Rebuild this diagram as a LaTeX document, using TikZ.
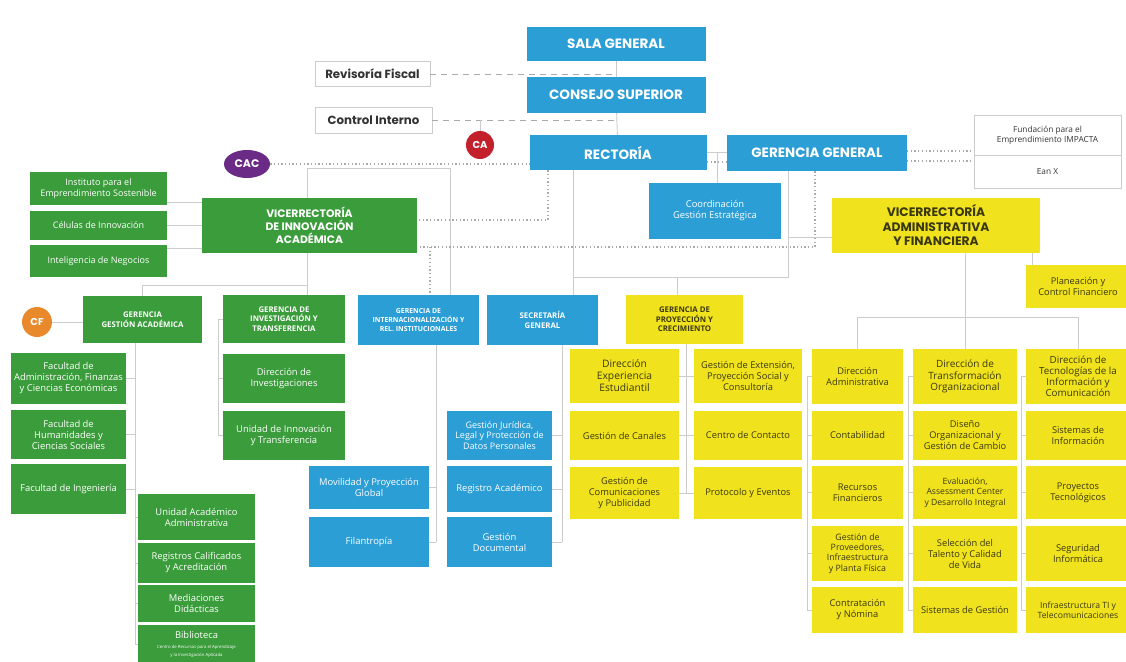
\documentclass[tikz,border=0pt]{standalone}
\usepackage{fontspec}
\setmainfont{Open Sans}
\newfontfamily\hdf{Poppins}
\usetikzlibrary{shapes.geometric}
\definecolor{cblue}{HTML}{2B9ED6}
\definecolor{cgreen}{HTML}{3A9C3A}
\definecolor{cyellow}{HTML}{F1E21E}
\definecolor{ytext}{HTML}{3A3810}
\definecolor{lgray}{HTML}{CCCCCC}
\definecolor{mgray}{HTML}{AAAAAA}
\definecolor{dgray}{HTML}{333333}
\definecolor{cred}{HTML}{C4202B}
\definecolor{cpurple}{HTML}{6A2A86}
\definecolor{corange}{HTML}{E8892B}
\newcommand\fsz[2]{\fontsize{#1}{#2}\selectfont}
\tikzset{
  base/.style={draw=none, align=center, inner sep=1pt},
  sz/.style 2 args={minimum width=#1pt, minimum height=#2pt},
  bl/.style={base, fill=cblue, text=white},
  gr/.style={base, fill=cgreen, text=white},
  ye/.style={base, fill=cyellow, text=ytext},
  wh/.style={base, fill=white, draw=lgray, line width=0.8pt, text=dgray},
  hd/.style={font=\hdf\bfseries\fsz{13.5}{15}},
  vice/.style={font=\hdf\bfseries\fsz{10.8}{13}},
  ger/.style={font=\bfseries\fsz{7.8}{9.5}},
  ch/.style={font=\fsz{9.4}{11}},
  ych/.style={font=\fsz{9.3}{11}},
  conn/.style={draw=lgray, line width=0.9pt},
  dotl/.style={draw=mgray, line width=1.3pt, dash pattern=on 1.3pt off 2.4pt},
  dashl/.style={draw=mgray, line width=0.9pt, dash pattern=on 6pt off 5pt},
  badge/.style={circle, inner sep=0pt, minimum size=28pt, text=white, font=\hdf\bfseries\fsz{10}{12}}
}
\begin{document}
\begin{tikzpicture}[x=1pt,y=-1pt]
\useasboundingbox[fill=white] (0,0) rectangle (1126,661);

% ---- top level
\node[bl,hd,sz={179}{34}] (sala) at (616,44) {SALA GENERAL};
\node[bl,hd,sz={179}{36}] (cons) at (616,95) {CONSEJO SUPERIOR};
\node[bl,hd,sz={177}{35}] (rect) at (618,152.5) {RECTORÍA};
\node[bl,hd,sz={180}{36}] (gg) at (817,153) {GERENCIA GENERAL};
\node[wh,sz={115}{25},font=\hdf\bfseries\fsz{11.8}{13}] (rev) at (372.5,74) {Revisoría Fiscal};
\node[wh,sz={117}{26},font=\hdf\bfseries\fsz{11.8}{13}] (ci) at (373.5,120) {Control Interno};
\node[wh,sz={147}{40},font=\fsz{8.3}{10}] (fund) at (1047.5,135) {Fundación para el\\Emprendimiento IMPACTA};
\node[wh,sz={147}{33},font=\fsz{8.3}{10}] (eanx) at (1047.5,171.5) {Ean X};
\node[badge,fill=cred] (ca) at (480,145) {CA};
\node[ellipse,inner sep=0pt,minimum width=46pt,minimum height=28pt,fill=cpurple,text=white,font=\hdf\bfseries\fsz{11}{12}] (cac) at (247,164) {CAC};
\node[bl,ch,sz={132}{56}] (coord) at (715,211) {Coordinación\\Gestión Estratégica};
\node[gr,vice,sz={215}{55}] (via) at (309.5,225.5) {VICERRECTORÍA\\DE INNOVACIÓN\\ACADÉMICA};
\node[gr,sz={137}{33},font=\fsz{9}{10.5}] (inst) at (98.5,188.5) {Instituto para el\\Emprendimiento Sostenible};
\node[gr,sz={137}{29},font=\fsz{9}{10.5}] (cel) at (98.5,225.5) {Células de Innovación};
\node[gr,sz={137}{32},font=\fsz{9}{10.5}] (intel) at (98.5,261) {Inteligencia de Negocios};
\node[ye,sz={208}{55},font=\hdf\bfseries\fsz{12.3}{14.5}] (vaf) at (936,225.5) {VICERRECTORÍA\\ADMINISTRATIVA\\Y FINANCIERA};
\node[ye,ych,sz={104}{43}] (plan) at (1078,286.5) {Planeación y\\Control Financiero};

% ---- gerencias
\node[gr,ger,sz={119}{47}] (gga) at (142.5,319.5) {GERENCIA\\GESTIÓN ACADÉMICA};
\node[badge,fill=corange,minimum size=30pt] (cf) at (37,322) {CF};
\node[gr,ger,sz={122}{48}] (git) at (284,319) {GERENCIA DE\\INVESTIGACIÓN Y\\TRANSFERENCIA};
\node[bl,sz={121}{50},font=\bfseries\fsz{6.9}{9}] (giri) at (418.5,320) {GERENCIA DE\\INTERNACIONALIZACIÓN Y\\REL. INSTITUCIONALES};
\node[bl,ger,sz={111}{50}] (sg) at (542.5,320) {SECRETARÍA\\GENERAL};
\node[ye,ger,sz={117}{49}] (gpc) at (684.5,319.5) {GERENCIA DE\\PROYECCIÓN Y\\CRECIMIENTO};

% ---- GGA children
\node[gr,ch,sz={115}{51}] (fad) at (68.5,378.5) {Facultad de\\Administración, Finanzas\\y Ciencias Económicas};
\node[gr,ch,sz={115}{49}] (fhu) at (68.5,434.5) {Facultad de\\Humanidades y\\Ciencias Sociales};
\node[gr,ch,sz={115}{50}] (fin) at (68.5,489) {Facultad de Ingeniería};
\node[gr,ch,sz={117}{46}] (uaa) at (196.5,517) {Unidad Académico\\Administrativa};
\node[gr,ch,sz={117}{40}] (rca) at (196.5,563) {Registros Calificados\\y Acreditación};
\node[gr,ch,sz={117}{37}] (med) at (196.5,603.5) {Mediaciones\\Didácticas};
\node[gr,ch,sz={117}{38}] (bib) at (196.5,644) {Biblioteca\\[-1pt]{\fsz{4.3}{5}Centro de Recursos para el Aprendizaje}\\[-3pt]{\fsz{4.3}{5}y la Investigación Aplicada}};

% ---- GIT children
\node[gr,ch,sz={122}{49}] (dinv) at (284,378.5) {Dirección de\\Investigaciones};
\node[gr,ch,sz={122}{49}] (uit) at (284,435.5) {Unidad de Innovación\\y Transferencia};

% ---- GIRI children
\node[bl,ch,sz={120}{43}] (mov) at (369,487.5) {Movilidad y Proyección\\Global};
\node[bl,ch,sz={120}{50}] (fil) at (369,542) {Filantropía};

% ---- SG children
\node[bl,sz={105}{49},font=\fsz{9}{10.5}] (gjur) at (499.5,435.5) {Gestión Jurídica,\\Legal y Protección de\\Datos Personales};
\node[bl,ch,sz={105}{46}] (racad) at (499.5,489) {Registro Académico};
\node[bl,ch,sz={105}{50}] (gdoc) at (499.5,542) {Gestión\\Documental};

% ---- GPC children
\node[ye,sz={109}{54},font=\fsz{10.3}{12}] (p11) at (624.5,376) {Dirección\\Experiencia\\Estudiantil};
\node[ye,ych,sz={109}{49}] (p12) at (624.5,435.5) {Gestión de Canales};
\node[ye,ych,sz={109}{52}] (p13) at (624.5,493) {Gestión de\\Comunicaciones\\y Publicidad};
\node[ye,ych,sz={108}{54}] (p21) at (748,376) {Gestión de Extensión,\\Proyección Social y\\Consultoría};
\node[ye,ych,sz={108}{49}] (p22) at (748,435.5) {Centro de Contacto};
\node[ye,ych,sz={108}{52}] (p23) at (748,493) {Protocolo y Eventos};

% ---- VAF children
\node[ye,ych,sz={91}{55}] (d11) at (857.5,376.5) {Dirección\\Administrativa};
\node[ye,ych,sz={91}{49}] (d12) at (857.5,435.5) {Contabilidad};
\node[ye,ych,sz={91}{53}] (d13) at (857.5,492.5) {Recursos\\Financieros};
\node[ye,sz={91}{55},font=\fsz{8.8}{10.3}] (d14) at (857.5,553.5) {Gestión de\\Proveedores,\\Infraestructura\\y Planta Física};
\node[ye,ych,sz={91}{46}] (d15) at (857.5,610) {Contratación\\y Nómina};
\node[ye,sz={104}{55},font=\fsz{10}{11.8}] (d21) at (965,376.5) {Dirección de\\Transformación\\Organizacional};
\node[ye,ych,sz={104}{49}] (d22) at (965,435.5) {Diseño\\Organizacional y\\Gestión de Cambio};
\node[ye,sz={104}{53},font=\fsz{8.6}{10.3}] (d23) at (965,492.5) {Evaluación,\\Assessment Center\\y Desarrollo Integral};
\node[ye,ych,sz={104}{55}] (d24) at (965,553.5) {Selección del\\Talento y Calidad\\de Vida};
\node[ye,ych,sz={104}{46}] (d25) at (965,610) {Sistemas de Gestión};
\node[ye,sz={104}{55},font=\fsz{9.8}{11}] (d31) at (1078,376.5) {Dirección de\\Tecnologías de la\\Información y\\Comunicación};
\node[ye,ych,sz={104}{49}] (d32) at (1078,435.5) {Sistemas de\\Información};
\node[ye,ych,sz={104}{53}] (d33) at (1078,492.5) {Proyectos\\Tecnológicos};
\node[ye,ych,sz={104}{55}] (d34) at (1078,553.5) {Seguridad\\Informática};
\node[ye,sz={104}{46},font=\fsz{8.6}{10.3}] (d35) at (1078,610) {Infraestructura TI y\\Telecomunicaciones};

% ================= connectors
\draw[conn] (sala) -- (cons);
\draw[conn] (cons) -- (rect);
\draw[dashl] (rev.east) -- (rev.east -| sala.south);
\draw[dashl] (ci.east) -- (ci.east -| sala.south);
\draw[conn] (ca.north) -- (ca.north |- ci.east);
\draw[dotl] (cac.east) -- (cac.east -| rect.west);
\coordinate (j1) at (307,168);
\coordinate (j2) at (450,168);
\draw[conn] (via.north -| j1) -- (j1) -- (j2) -- (j2 |- giri.north);
\draw[conn] (rect.east) -- (rect.east -| gg.west);
\coordinate (j4) at (707,162);
\draw[dotl] (j4) -- (j4 -| gg.west);
\coordinate (j3) at (717,152.5);
\draw[conn] (j3) -- (j3 |- coord.north);
\coordinate (g1) at (907,151);
\draw[dotl] (g1) -- (g1 -| fund.west);
\coordinate (g2) at (907,161);
\draw[dotl] (g2) -- (g2 -| eanx.west);
\coordinate (r1) at (548,220);
\draw[dotl] (r1 |- rect.south) -- (r1) -- (r1 -| via.east);
\coordinate (r2) at (815,247);
\draw[dotl] (r2 |- gg.south) -- (r2) -- (r2 -| via.east);
\coordinate (r3) at (430,247);
\draw[dotl] (r3) -- (r3 |- giri.north);
\coordinate (s1) at (573,277);
\coordinate (s2) at (788,277);
\coordinate (s3) at (677,277);
\coordinate (s4) at (788,237);
\draw[conn] (s1 |- rect.south) -- (s1 |- sg.north);
\draw[conn] (s1) -- (s2) -- (s2 |- gg.south);
\draw[conn] (s3) -- (s3 |- gpc.north);
\draw[conn] (s4) -- (s4 -| vaf.west);
% VIA side
\coordinate (v1) at (0,202);
\coordinate (v2) at (0,225);
\coordinate (v3) at (0,248);
\draw[conn] (v1 -| inst.east) -- (v1 -| via.west);
\draw[conn] (v2 -| cel.east) -- (v2 -| via.west);
\draw[conn] (v3 -| intel.east) -- (v3 -| via.west);
\coordinate (v4) at (307,285);
\draw[conn] (v4 |- via.south) -- (v4) -- (v4 -| gga.north) -- (gga.north);
\draw[conn] (v4) -- (v4 |- git.north);
\draw[conn] (cf.east) -- (cf.east -| gga.west);
% GGA bracket
\coordinate (a0) at (135,0);
\draw[conn] (a0 |- gga.south) -- (a0 |- bib);
\foreach \n in {fad,fhu,fin} \draw[conn] (\n.east) -- (\n.east -| a0);
\foreach \n in {uaa,rca,med,bib} \draw[conn] (\n.west -| a0) -- (\n.west);
% GIT bracket
\coordinate (b0) at (218,0);
\draw[conn] (git.west -| b0) -- (uit.west -| b0);
\foreach \n in {git,dinv,uit} \draw[conn] (\n.west -| b0) -- (\n.west);
% GIRI
\coordinate (c0) at (436,0);
\draw[conn] (c0 |- giri.south) -- (c0 |- fil);
\foreach \n in {mov,fil} \draw[conn] (\n.east) -- (\n.east -| c0);
% SG
\coordinate (d0) at (562,0);
\draw[conn] (d0 |- sg.south) -- (d0 |- gdoc);
\foreach \n in {gjur,racad,gdoc} \draw[conn] (\n.east) -- (\n.east -| d0);
% GPC
\coordinate (e0) at (686,0);
\draw[conn] (e0 |- gpc.south) -- (e0 |- p13);
\foreach \n in {p11,p12,p13} \draw[conn] (\n.east) -- (\n.east -| e0);
\foreach \n in {p21,p22,p23} \draw[conn] (\n.west -| e0) -- (\n.west);
% VAF
\coordinate (f0) at (965,317);
\draw[conn] (vaf.south -| f0) -- (f0);
\draw[conn] (f0 -| d11.north) -- (f0 -| d31.north);
\foreach \n in {d11,d21,d31} \draw[conn] (f0 -| \n.north) -- (\n.north);
\coordinate (p0) at (1032,0);
\draw[conn] (p0 |- vaf.south) -- (p0 |- plan.north);
\coordinate (k1) at (807,0);
\coordinate (k2) at (908,0);
\coordinate (k3) at (1021,0);
\draw[conn] (k1 |- d11) -- (k1 |- d15);
\draw[conn] (k2 |- d21) -- (k2 |- d25);
\draw[conn] (k3 |- d31) -- (k3 |- d35);
\foreach \n in {d11,d12,d13,d14,d15} \draw[conn] (\n.west -| k1) -- (\n.west);
\foreach \n in {d21,d22,d23,d24,d25} \draw[conn] (\n.west -| k2) -- (\n.west);
\foreach \n in {d31,d32,d33,d34,d35} \draw[conn] (\n.west -| k3) -- (\n.west);
\end{tikzpicture}
\end{document}
